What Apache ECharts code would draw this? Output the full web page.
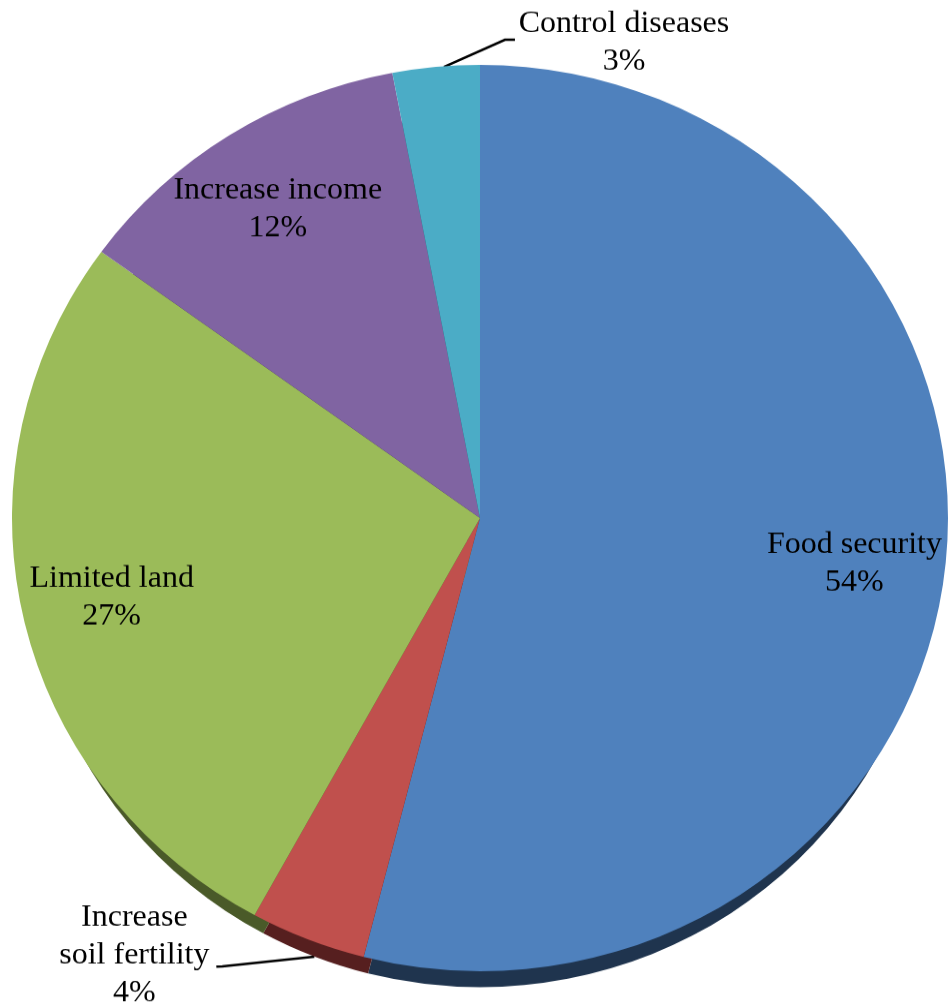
<!DOCTYPE html>
<html>
<head>
<meta charset="utf-8">
<script src="https://cdn.jsdelivr.net/npm/echarts@6/dist/echarts.min.js"></script>
<style>
  html, body { margin: 0; padding: 0; background: #fff; overflow: hidden; font-family: "Liberation Serif", serif; }
  /* the pie is drawn as a circle and flattened slightly into a tilted disc */
  #chart { width: 950px; height: 1040px; transform: scaleY(0.9683); transform-origin: 0 0; }
</style>
</head>
<body>
<div id="chart"></div>
<script>
// Reasons given, share of respondents (%)
const categories = ['Food security', 'Increase soil fertility', 'Limited land', 'Increase income', 'Control diseases'];
const shares = [54, 4, 27, 12, 3];

// slices labelled on the face / with a leader line
const insideLabelled = [0, 2, 3];
const leaderOnSide = 1;
const leaderOnFace = 4;

const faceColors = ['#4F81BD', '#C0504D', '#9BBB59', '#8064A2', '#4BACC6'];
const sideColors = ['#1F344E', '#561F1F', '#4A5A29', '#3F3151', '#215968'];

// face circle; the side wall is a slightly smaller circle pushed down,
// so it only peeks out along the lower rim
const R = 468, CX = 480, CY = 535;
const SIDE_SHRINK = 18, SIDE_DROP = 34.5;
const serif = '"Liberation Serif", "Times New Roman", Tinos, "DejaVu Serif", serif';
const baseLabel = {
  fontFamily: serif, fontSize: 32, lineHeight: 39, color: '#000',
  fontStyle: 'normal', fontWeight: 'normal'
};
const labelText = p => p.name.replace('Increase soil', 'Increase\nsoil') + '\n' + p.value + '%';
const leaderStyle = { color: '#000', width: 2.5 };

function items(colors, labelled) {
  return categories.map((name, i) => ({
    name,
    value: shares[i],
    itemStyle: { color: colors ? colors[i] : 'rgba(0,0,0,0)' },
    label: { show: labelled.includes(i), fontFamily: serif },
    labelLine: { show: labelled.includes(i) }
  }));
}

const chart = echarts.init(document.getElementById('chart'), null, { renderer: 'canvas' });
chart.setOption({
  animation: false,
  backgroundColor: '#fff',
  textStyle: { fontFamily: serif },
  series: [
    {
      // side wall of the disc
      type: 'pie', z: 1, silent: true,
      center: [CX, CY + SIDE_DROP], radius: R - SIDE_SHRINK, startAngle: 90,
      avoidLabelOverlap: false,
      emphasis: { disabled: true },
      itemStyle: { borderWidth: 0 },
      label: Object.assign({}, baseLabel, { position: 'outside', formatter: labelText }),
      labelLine: { length: 4, length2: 88, lineStyle: leaderStyle },
      labelLayout: p => {
        if (p.dataIndex !== leaderOnSide || !p.labelLinePoints) return {};
        const [x0, y0] = p.labelLinePoints[0];
        return {
          x: x0 - 180, y: y0 - 1, align: 'center', verticalAlign: 'middle',
          labelLinePoints: [[x0, y0], [x0 - 92, y0 + 10], [x0 - 98, y0 + 10.4]]
        };
      },
      data: items(sideColors, [leaderOnSide])
    },
    {
      // top face
      type: 'pie', z: 2, silent: true,
      center: [CX, CY], radius: R, startAngle: 90,
      avoidLabelOverlap: false,
      emphasis: { disabled: true },
      itemStyle: { borderWidth: 0 },
      label: Object.assign({}, baseLabel, { position: 'outside', formatter: labelText }),
      labelLine: { length: 10, length2: 10, lineStyle: leaderStyle },
      labelLayout: p => {
        if (p.dataIndex !== leaderOnFace || !p.labelLinePoints) return {};
        const [x0, y0] = p.labelLinePoints[0];
        return {
          x: x0 + 188, y: y0 - 25, align: 'center', verticalAlign: 'middle',
          labelLinePoints: [[x0 + 8, y0], [x0 + 69, y0 - 28], [x0 + 79, y0 - 28]]
        };
      },
      data: items(faceColors, [leaderOnFace])
    },
    {
      // transparent ring that carries the in-slice labels at 80% of the radius
      type: 'pie', z: 3, silent: true,
      center: [CX, CY], radius: [R * 0.6, R], startAngle: 90,
      avoidLabelOverlap: false,
      emphasis: { disabled: true },
      itemStyle: { borderWidth: 0 },
      label: Object.assign({}, baseLabel, { position: 'inside', formatter: labelText }),
      labelLine: { show: false },
      data: items(null, insideLabelled)
    }
  ]
});
</script>
</body>
</html>
